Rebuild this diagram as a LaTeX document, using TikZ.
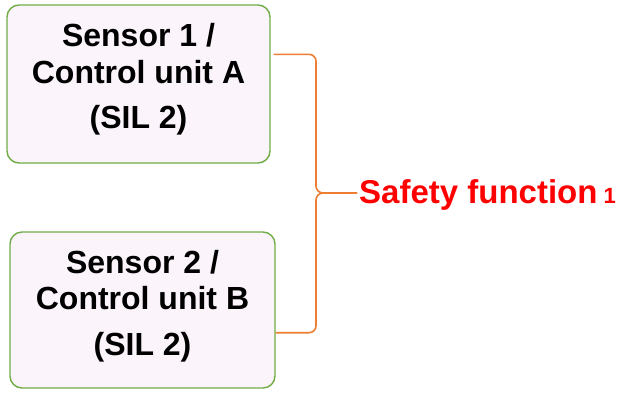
\documentclass[tikz,border=0pt]{standalone}
\usepackage{fontspec}
\setmainfont{Liberation Sans}
\definecolor{boxfill}{HTML}{FBF4FB}
\definecolor{boxedge}{HTML}{70AD47}
\definecolor{braceline}{HTML}{ED7D31}
\definecolor{sfred}{HTML}{FF0000}
\begin{document}
\begin{tikzpicture}[x=1pt,y=-1pt,
  unitbox/.style={draw=boxedge, line width=1.4pt, fill=boxfill, rounded corners=12pt, inner sep=0pt},
  unittext/.style={align=center, inner sep=0pt, font=\fontsize{32}{36.5}\selectfont\bfseries},
  brace/.style={draw=braceline, line width=1.6pt, rounded corners=7pt},
  sflabel/.style={anchor=base west, inner sep=0pt, text=sfred, font=\fontsize{33}{36}\selectfont\bfseries}]
  \useasboundingbox[fill=white] (0,0) rectangle (619,392);

  % the two redundant channels
  \node[unitbox, minimum width=263pt, minimum height=158pt] (a) at (138.5,84) {};
  \node[unittext] (ta) at ([yshift=4.5pt]a.center) {Sensor 1 /\\Control unit A\\[9pt](SIL 2)};
  \node[unitbox, minimum width=265pt, minimum height=156pt] (b) at (142.5,310) {};
  \node[unittext] (tb) at ([yshift=4pt]b.center) {Sensor 2 /\\Control unit B\\[9pt](SIL 2)};

  % brace joining both channels into one function
  \coordinate (tip) at (357,193);
  \coordinate (ja) at ([xshift=3pt,yshift=-50pt]a.north east);
  \coordinate (jb) at ([xshift=0pt,yshift=56pt]b.south east);
  \node[sflabel] (sf) at (359,203) {Safety function\hspace{6pt}{\fontsize{22}{22}\selectfont 1}};
  \path[brace] (ja) -| (316,193) -- (tip);
  \path[brace] (jb) -| (316,193) -- (tip);
\end{tikzpicture}
\end{document}
